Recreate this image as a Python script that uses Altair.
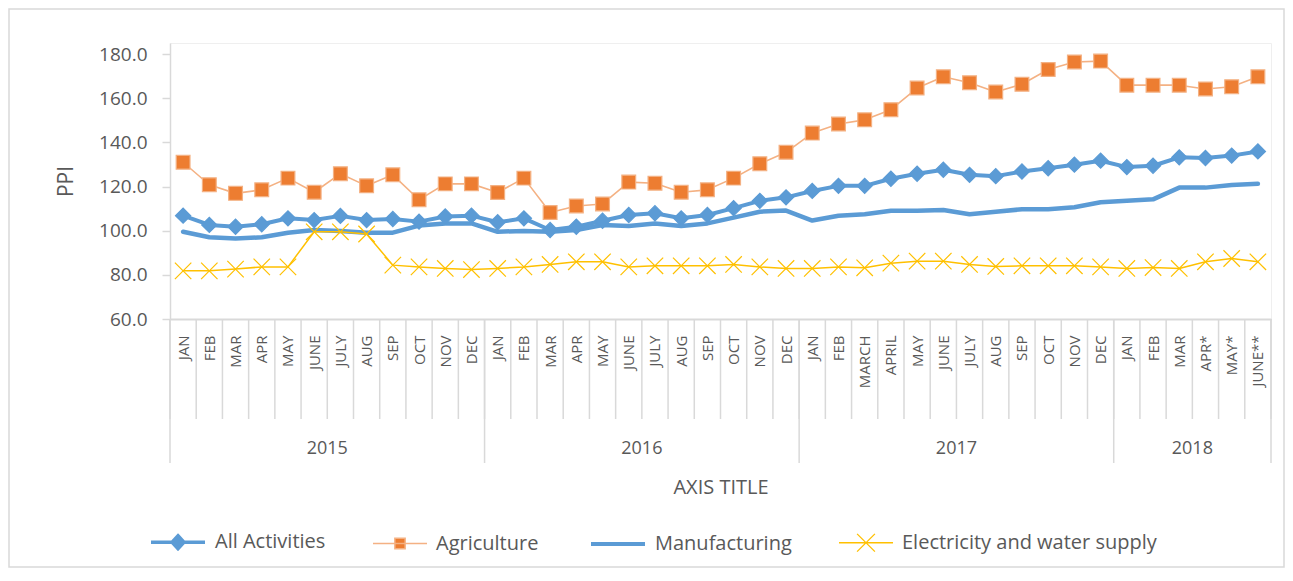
import json
import altair as alt
import pandas as pd

# ---------------- data ----------------
months = ["JAN", "FEB", "MAR", "APR", "MAY", "JUNE", "JULY", "AUG", "SEP", "OCT", "NOV", "DEC",
          "JAN", "FEB", "MAR", "APR", "MAY", "JUNE", "JULY", "AUG", "SEP", "OCT", "NOV", "DEC",
          "JAN", "FEB", "MARCH", "APRIL", "MAY", "JUNE", "JULY", "AUG", "SEP", "OCT", "NOV", "DEC",
          "JAN", "FEB", "MAR", "APR*", "MAY*", "JUNE**"]
year_labels = ["2015", "2016", "2017", "2018"]
months_per_year = [12, 12, 12, 6]

series_names = ["All Activities", "Agriculture", "Manufacturing", "Electricity and water supply"]

all_activities = [106.8, 102.6, 101.8, 102.9, 105.6, 104.8, 106.7, 104.8, 105.3, 104.1, 106.4, 106.8,
                  103.8, 105.6, 100.3, 101.8, 104.5, 107.1, 107.9, 105.6, 107.1, 110.2, 113.5, 115.1,
                  118.0, 120.3, 120.3, 123.5, 125.8, 127.6, 125.3, 124.7, 126.8, 128.3, 129.9, 131.7,
                  128.8, 129.4, 133.2, 132.9, 134.0, 135.9]
agriculture = [131.0, 120.8, 116.9, 118.5, 123.8, 117.4, 125.8, 120.3, 125.3, 114.0, 121.2, 121.2,
               117.3, 123.8, 108.2, 111.2, 112.1, 122.0, 121.5, 117.4, 118.5, 123.8, 130.3, 135.5,
               144.2, 148.3, 150.2, 154.8, 164.6, 169.7, 167.0, 162.8, 166.3, 173.0, 176.4, 176.8,
               165.9, 165.9, 165.9, 164.2, 165.2, 169.7]
manufacturing = [99.5, 97.0, 96.5, 97.0, 99.1, 100.3, 99.9, 99.1, 99.1, 102.3, 103.3, 103.3,
                 99.5, 99.9, 99.5, 100.3, 102.6, 102.1, 103.3, 102.1, 103.3, 105.9, 108.6, 109.1,
                 104.6, 106.8, 107.4, 109.0, 109.0, 109.4, 107.4, 108.6, 109.7, 109.7, 110.6, 112.9,
                 113.5, 114.2, 119.5, 119.5, 120.7, 121.2]
electricity = [81.8, 81.8, 82.6, 83.6, 83.6, 99.5, 99.5, 98.5, 84.4, 83.6, 82.9, 82.4,
               82.9, 83.6, 84.7, 85.9, 85.9, 83.6, 84.1, 84.1, 84.1, 84.7, 83.6, 82.9,
               82.9, 83.6, 83.2, 85.3, 86.2, 86.2, 84.7, 83.8, 84.1, 84.1, 84.1, 83.6,
               82.9, 83.3, 82.9, 85.9, 87.4, 85.9]

y_ticks = [60, 80, 100, 120, 140, 160, 180]

# ---------------- styling ----------------
BLUE = "#5B9BD5"
ORANGE = "#ED7D31"
LIGHT_ORANGE = "#F4B183"
YELLOW = "#FFC000"
GRID = "#D9D9D9"
TXT = "#595959"
FONT = "Open Sans"

W, H = 1101, 276
n = len(months)

rows = []
for name, vals in zip(series_names, [all_activities, agriculture, manufacturing, electricity]):
    for i, v in enumerate(vals):
        rows.append({"i": i, "series": name, "value": v})
df = pd.DataFrame(rows)

bounds_df = pd.DataFrame({"i": [i - 0.5 for i in range(n + 1)]})
starts = [sum(months_per_year[:k]) for k in range(len(months_per_year))]
year_df = pd.DataFrame({
    "year": year_labels,
    "i": [s + (c - 1) / 2 for s, c in zip(starts, months_per_year)],
})
year_bounds_df = pd.DataFrame({"i": [s - 0.5 for s in starts] + [n - 0.5]})

xs = alt.Scale(domain=[-0.5, n - 0.5], nice=False, zero=False)
ys = alt.Scale(domain=[60, 185], nice=False, zero=False)

label_expr = json.dumps(months) + "[datum.value]"

x_axis = alt.Axis(values=list(range(n)), labelExpr=label_expr, labelAngle=-90, ticks=False,
                  labelPadding=16, grid=False, domainColor=GRID, domainWidth=2,
                  labelFont=FONT, labelFontSize=15, labelColor=TXT, labelOverlap=False,
                  labelFlush=False, title="AXIS TITLE", titleY=174, titleBaseline="alphabetic",
                  titleFont=FONT, titleFontSize=20, titleFontWeight="normal", titleColor=TXT)
y_axis = alt.Axis(values=y_ticks, format=".1f", tickSize=8, tickColor=GRID, tickWidth=1.5,
                  domainColor=GRID, domainWidth=1.5, labelPadding=15, grid=False,
                  labelFont=FONT, labelFontSize=19, labelColor=TXT,
                  title="PPI", titleX=-104, titleBaseline="middle", titleFont=FONT,
                  titleFontSize=21, titleFontWeight="normal", titleColor=TXT)

X = alt.X("i:Q", scale=xs, axis=x_axis)
Y = alt.Y("value:Q", scale=ys, axis=y_axis)

lines = alt.Chart(df).mark_line(strokeJoin="round", strokeCap="round").encode(
    x=X, y=Y,
    stroke=alt.Stroke("series:N", scale=alt.Scale(domain=series_names,
                      range=[BLUE, LIGHT_ORANGE, BLUE, YELLOW]), legend=None),
    strokeWidth=alt.StrokeWidth("series:N", scale=alt.Scale(type="ordinal", domain=series_names,
                                range=[4, 1.6, 4.5, 1.5]), legend=None),
)

marker_series = [series_names[0], series_names[1], series_names[3]]
XPATH = "M-1,-1L1,1M-1,1L1,-1"
points = alt.Chart(df).transform_filter(
    alt.FieldOneOfPredicate(field="series", oneOf=marker_series)
).mark_point(filled=True, opacity=1, strokeWidth=1.2).encode(
    x=X, y=Y,
    shape=alt.Shape("series:N", scale=alt.Scale(domain=marker_series,
                    range=["diamond", "square", XPATH]), legend=None),
    fill=alt.Fill("series:N", scale=alt.Scale(domain=marker_series,
                  range=[BLUE, ORANGE, "transparent"]), legend=None),
    stroke=alt.Stroke("series:N", scale=alt.Scale(domain=marker_series,
                      range=[BLUE, LIGHT_ORANGE, YELLOW]), legend=None),
    size=alt.Size("series:N", scale=alt.Scale(type="ordinal", domain=marker_series,
                  range=[230, 190, 270]), legend=None),
)

dividers = alt.Chart(bounds_df).mark_rule(color=GRID, strokeWidth=1.5).encode(
    x=X, y=alt.value(H), y2=alt.value(H + 100),
)
year_dividers = alt.Chart(year_bounds_df).mark_rule(color=GRID, strokeWidth=1.5).encode(
    x=X, y=alt.value(H), y2=alt.value(H + 144),
)
years = alt.Chart(year_df).mark_text(font=FONT, fontSize=18, color=TXT, baseline="middle").encode(
    x=X, y=alt.value(H + 130), text="year:N",
)

frame = alt.Chart(pd.DataFrame({"k": [0]})).mark_rect(
    fillOpacity=0, stroke=GRID, strokeWidth=1.5
).encode(x=alt.value(-161), x2=alt.value(1114), y=alt.value(-34), y2=alt.value(524))

legend_paths = [
    "M-1,0H1M0,-0.24L0.22,0L0,0.24L-0.22,0Z",
    "M-1,0H1M-0.19,-0.19H0.19V0.19H-0.19Z",
    "M-1,0H1",
    "M-1,0H1M-0.33,-0.33L0.33,0.33M-0.33,0.33L0.33,-0.33",
]
leg_props = dict(title=None, orient="none", legendX=-21, legendY=470, direction="horizontal",
                 symbolSize=2916, labelFont=FONT, labelFontSize=20, labelColor=TXT,
                 labelOffset=8, columnPadding=44, labelLimit=0)
legend_layer = alt.Chart(pd.DataFrame({"series": series_names})).transform_filter("false").mark_point(
    filled=True, opacity=1
).encode(
    shape=alt.Shape("series:N", scale=alt.Scale(domain=series_names, range=legend_paths),
                    legend=alt.Legend(**leg_props)),
    fill=alt.Fill("series:N", scale=alt.Scale(domain=series_names,
                  range=[BLUE, ORANGE, BLUE, "transparent"]), legend=alt.Legend(**leg_props)),
    stroke=alt.Stroke("series:N", scale=alt.Scale(domain=series_names,
                      range=[BLUE, LIGHT_ORANGE, BLUE, YELLOW]), legend=alt.Legend(**leg_props)),
    strokeWidth=alt.StrokeWidth("series:N", scale=alt.Scale(type="ordinal", domain=series_names,
                                range=[3.5, 1.5, 4, 1.3]), legend=alt.Legend(**leg_props)),
)

chart = alt.layer(
    frame, dividers, year_dividers, years, lines, points, legend_layer
).resolve_scale(
    stroke="independent", fill="independent", shape="independent",
    strokeWidth="independent", size="independent"
).properties(
    width=W, height=H, padding=0, background="white"
).configure_view(stroke="#EFEFEF", strokeWidth=1)

chart.save("out.html", embed_options={"renderer": "svg", "actions": False})
